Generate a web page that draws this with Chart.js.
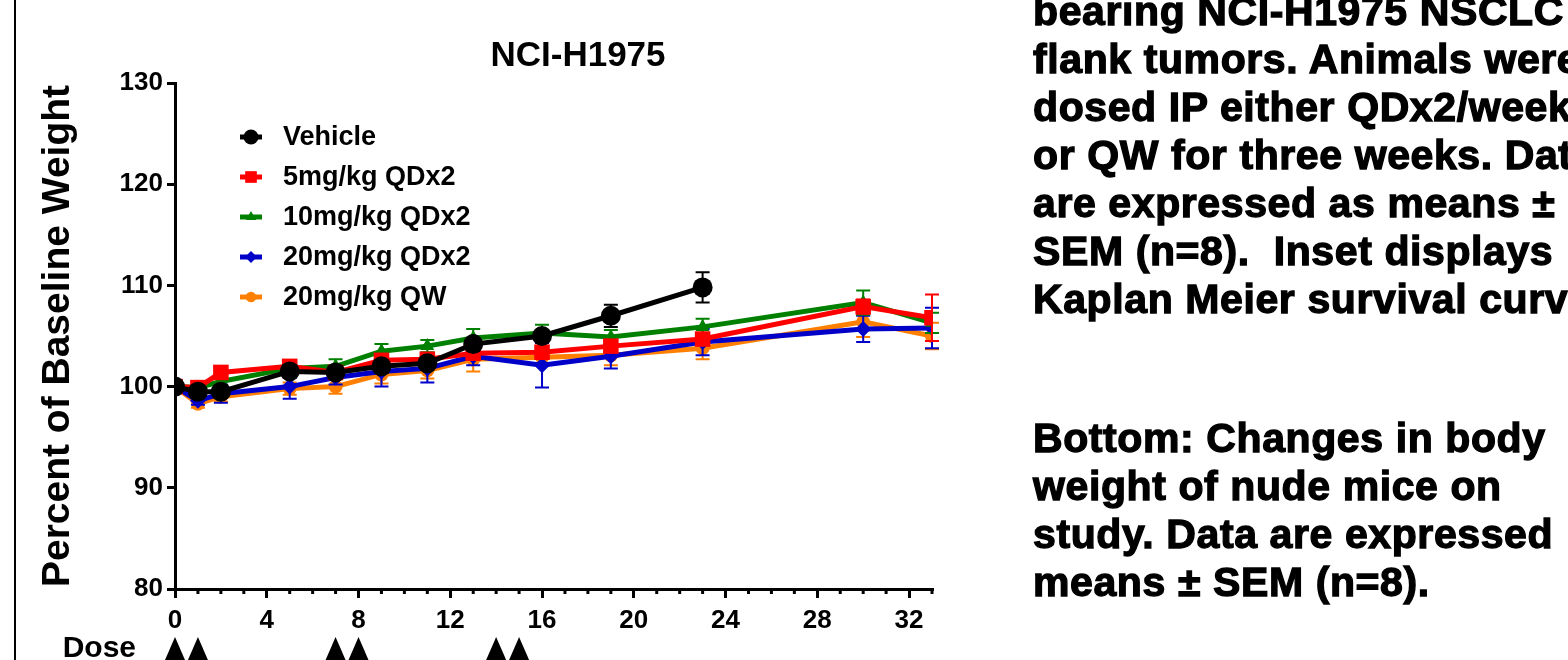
<!DOCTYPE html>
<html>
<head>
<meta charset="utf-8">
<script src="https://cdn.jsdelivr.net/npm/chart.js@4.4.0/dist/chart.umd.min.js"></script>
<style>
  body { margin: 0; width: 1568px; height: 660px; overflow: hidden; background: #fff; position: relative; font-family: "Liberation Sans", Arial, sans-serif; }
  #frame { position: absolute; left: 14px; top: 0; width: 2px; height: 660px; background: #000; }
  canvas { position: absolute; left: 0; top: 0; }
  .note { position: absolute; left: 1033px; font-weight: bold; font-size: 41px; letter-spacing: 0.6px; line-height: 48px; white-space: pre; -webkit-text-stroke: 1.3px #000; color: #000; }
</style>
</head>
<body>
<div id="frame"></div>
<canvas id="chart" width="1568" height="660"></canvas>
<div class="note" style="top:-13px">bearing NCI-H1975 NSCLC
flank tumors. Animals were
dosed IP either QDx2/week
or QW for three weeks. Data
are expressed as means ±
SEM (n=8).  Inset displays
Kaplan Meier survival curves</div>
<div class="note" style="top:414px">Bottom: Changes in body
weight of nude mice on
study. Data are expressed
means ± SEM (n=8).</div>
<script>
// days on study
const days = [0, 1, 2, 5, 7, 9, 11, 13, 16, 19, 23, 30, 33];
const doseDays = [0, 1, 7, 8, 14, 15];
const yTicks = [80, 90, 100, 110, 120, 130];

// percent of baseline weight (means) and SEM
const vehicle = [100, 99.5, 99.5, 101.5, 101.4, 102.0, 102.3, 104.2, 105.0, 107.0, 109.8];
const vehicleErr = [0, 0.4, 0.6, 0.5, 0.4, 0.6, 0.5, 0.5, 0.6, 1.1, 1.5];
const qd5 = [100, 99.9, 101.4, 102.0, 101.4, 102.6, 102.7, 103.3, 103.4, 104.0, 104.7, 107.9, 106.8];
const qd5Err = [0, 0.4, 0.3, 0.4, 0.5, 0.5, 0.5, 0.6, 0.6, 0.5, 0.6, 0.7, 2.3];
const qd10 = [100, 99.9, 100.5, 101.8, 102.0, 103.5, 104.0, 104.8, 105.3, 104.9, 105.9, 108.3, 106.3];
const qd10Err = [0, 0.3, 0.4, 0.4, 0.7, 0.7, 0.6, 0.9, 0.8, 0.7, 0.8, 1.2, 1.0];
const qd20 = [100, 98.6, 99.3, 100.0, 100.9, 101.5, 101.8, 103.0, 102.1, 103.0, 104.4, 105.7, 105.8];
const qd20Err = [0, 0.4, 0.9, 1.2, 0.7, 1.5, 1.4, 0.9, 2.2, 1.2, 1.3, 1.3, 2.0];
const qw20 = [100, 98.3, 99.0, 99.8, 100.0, 101.2, 101.6, 102.7, 102.9, 103.1, 103.8, 106.4, 105.0];
const qw20Err = [0, 0.4, 0.5, 0.6, 0.7, 0.9, 0.8, 1.2, 0.6, 1.0, 1.1, 1.5, 1.3];

const errors = [vehicleErr, qd5Err, qd10Err, qd20Err, qw20Err];
const FONT = '"Liberation Sans", Arial, sans-serif';

function series(label, values, color, style, radius) {
    return {
        label: label,
        data: values.map((v, i) => ({ x: days[i], y: v })),
        borderColor: color,
        backgroundColor: color,
        borderWidth: 5,
        pointStyle: style,
        pointRadius: radius,
        pointHoverRadius: radius,
        pointBorderWidth: 0,
        tension: 0
    };
}

// error bars, title, legend, minor ticks and dose markers
const extras = {
    id: 'extras',
    beforeDatasetDraw(chart, args) {
        const ds = chart.data.datasets[args.index];
        const errs = errors[args.index];
        const x = chart.scales.x, y = chart.scales.y;
        const ctx = chart.ctx;
        ctx.save();
        ctx.strokeStyle = ds.borderColor;
        ctx.lineWidth = 2;
        ds.data.forEach((p, i) => {
            const e = errs[i];
            if (!e) return;
            const px = x.getPixelForValue(p.x);
            const top = y.getPixelForValue(p.y + e);
            const bot = y.getPixelForValue(p.y - e);
            ctx.beginPath();
            ctx.moveTo(px, top); ctx.lineTo(px, bot);
            ctx.moveTo(px - 7, top); ctx.lineTo(px + 7, top);
            ctx.moveTo(px - 7, bot); ctx.lineTo(px + 7, bot);
            ctx.stroke();
        });
        ctx.restore();
    },
    afterDraw(chart) {
        const ctx = chart.ctx;
        const x = chart.scales.x;
        const area = chart.chartArea;
        ctx.save();
        ctx.fillStyle = '#000';

        // title
        ctx.font = 'bold 35px ' + FONT;
        ctx.textAlign = 'center';
        ctx.textBaseline = 'middle';
        ctx.fillText('NCI-H1975', 578, 56);

        // legend
        ctx.font = 'bold 27px ' + FONT;
        ctx.textAlign = 'left';
        chart.data.datasets.forEach((ds, i) => {
            const ly = 137 + i * 40;
            ctx.strokeStyle = ds.borderColor;
            ctx.lineWidth = 5;
            ctx.beginPath();
            ctx.moveTo(240, ly); ctx.lineTo(262, ly);
            ctx.stroke();
            ctx.fillStyle = ds.borderColor;
            Chart.helpers.drawPoint(ctx, { pointStyle: ds.pointStyle, radius: ds.pointRadius * 0.75, rotation: 0, borderWidth: 0 }, 251, ly);
            ctx.fillStyle = '#000';
            ctx.fillText(ds.label, 283, ly + 1);
        });

        // minor ticks on x axis
        ctx.strokeStyle = '#000';
        ctx.lineWidth = 3;
        for (let d = 1; d <= 33; d++) {
            if (d % 4 === 0) continue;
            const px = x.getPixelForValue(d);
            ctx.beginPath();
            ctx.moveTo(px, area.bottom);
            ctx.lineTo(px, area.bottom + 5);
            ctx.stroke();
        }

        // dose markers
        ctx.font = 'bold 30px ' + FONT;
        ctx.textAlign = 'right';
        ctx.fillText('Dose', 136, 649);
        doseDays.forEach(d => {
            const px = x.getPixelForValue(d);
            ctx.beginPath();
            ctx.moveTo(px, 637);
            ctx.lineTo(px + 10, 660);
            ctx.lineTo(px - 10, 660);
            ctx.closePath();
            ctx.fill();
        });
        ctx.restore();
    }
};

new Chart(document.getElementById('chart'), {
    type: 'line',
    data: {
        datasets: [
            series('Vehicle', vehicle, '#000000', 'circle', 10),
            series('5mg/kg QDx2', qd5, '#ff0000', 'rect', 11),
            series('10mg/kg QDx2', qd10, '#008000', 'triangle', 8),
            series('20mg/kg QDx2', qd20, '#0000c8', 'rectRot', 8),
            series('20mg/kg QW', qw20, '#ff8000', 'circle', 7)
        ]
    },
    options: {
        responsive: false,
        animation: false,
        layout: { padding: { left: 31, right: 636, top: 83, bottom: 0 } },
        plugins: { legend: { display: false }, tooltip: { enabled: false } },
        scales: {
            x: {
                type: 'linear',
                min: 0,
                max: 33,
                afterFit: s => { s.height = 71; },
                border: { color: '#000', width: 3 },
                grid: { drawOnChartArea: false, color: '#000', lineWidth: 3, tickLength: 9 },
                ticks: { stepSize: 4, includeBounds: false, color: '#000', padding: 7, maxRotation: 0, font: { family: FONT, size: 26, weight: 'bold' } }
            },
            y: {
                min: 80,
                max: 130,
                afterFit: s => { s.width = 144; },
                afterBuildTicks: s => { s.ticks = yTicks.map(v => ({ value: v })); },
                border: { color: '#000', width: 3 },
                grid: { drawOnChartArea: false, color: '#000', lineWidth: 3, tickLength: 8 },
                ticks: { color: '#000', padding: 4, font: { family: FONT, size: 26, weight: 'bold' } },
                title: { display: true, text: 'Percent of Baseline Weight', color: '#000', padding: { top: 4, bottom: 0 }, font: { family: FONT, size: 39, weight: 'bold' } }
            }
        }
    },
    plugins: [extras]
});
</script>
</body>
</html>
